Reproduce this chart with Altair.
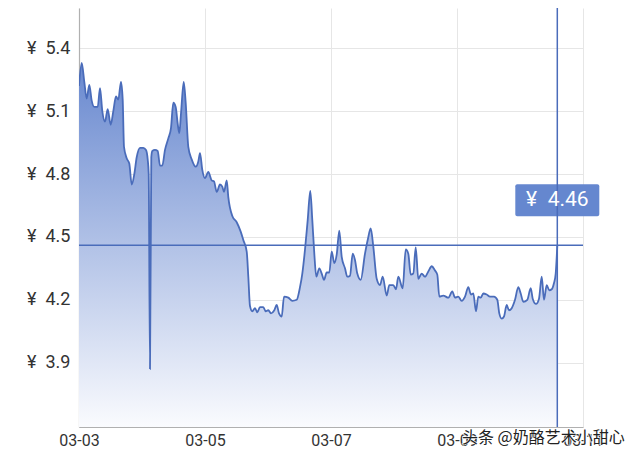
import altair as alt
import pandas as pd

# hours since 03-03 00:00 and price (CNY)
hours = [0, 1.03, 2.02, 2.93, 3.92, 4.84, 5.83, 7.12, 8.0, 8.88, 9.90, 10.93, 12.08, 13.07,
         14.10, 14.97, 16.0, 16.65, 17.14, 18.17, 19.16, 20.08, 21.07, 21.98, 23.24, 24.50,
         25.52, 26.17, 26.55, 27.05, 27.54, 27.92, 28.95, 29.98, 30.86, 31.73, 32.76, 34.02,
         35.05, 35.92, 36.84, 37.60, 38.21, 38.86, 39.89, 40.65, 41.64, 42.93, 44.46, 45.45,
         46.10, 46.97, 48.0, 49.26, 50.55, 51.43, 52.46, 53.71, 54.59, 55.24, 56.27, 56.88,
         58.40, 60.08, 61.60, 62.59, 63.89, 64.50, 65.14, 66.02, 67.05, 67.92, 68.95, 70.21,
         71.12, 72.11, 73.14, 74.40, 75.31, 76.19, 77.22, 78.10, 79.73, 81.26, 82.93, 84.19,
         85.07, 86.10, 87.12, 88.11, 88.88, 89.64, 90.40, 91.54, 92.46, 93.33, 94.36, 95.35,
         96.27, 97.26, 98.17, 99.16, 100.08, 101.33, 102.21, 103.24, 104.27, 105.14, 106.02,
         107.31, 108.95, 109.98, 111.12, 112.11, 113.41, 114.67, 115.70, 117.22, 118.21,
         119.73, 120.76, 121.64, 123.31, 124.46, 125.45, 126.36, 127.35, 128.27, 129.26,
         130.55, 131.81, 133.07, 134.36, 135.62, 136.50, 137.26, 138.78, 140.69, 142.21,
         143.24, 144.50, 145.79, 147.05, 148.30, 149.33, 150.21, 151.24, 152.11, 153.03,
         154.02, 155.31, 156.57, 158.10, 159.35, 160.11, 161.03, 161.90, 162.93, 163.81,
         164.84, 166.10, 167.35, 168.27, 169.26, 170.78, 172.08, 172.84, 174.10, 175.24,
         176.27, 177.14, 178.17, 179.16, 180.08, 180.95, 181.60, 182.21]
prices = [5.22, 5.33, 5.24, 5.16, 5.225, 5.15, 5.12, 5.12, 5.21, 5.10, 5.05, 5.11, 5.035, 5.10,
          5.17, 5.155, 5.24, 5.155, 4.93, 4.875, 4.85, 4.75, 4.80, 4.88, 4.925, 4.925,
          4.915, 4.87, 4.80, 3.87, 4.88, 4.91, 4.915, 4.91, 4.84, 4.84, 4.915, 4.97,
          5.02, 5.14, 5.12, 5.04, 4.995, 5.09, 5.24, 5.14, 4.93, 4.87, 4.835, 4.86,
          4.90, 4.82, 4.78, 4.81, 4.77, 4.765, 4.715, 4.75, 4.74, 4.715, 4.77, 4.69,
          4.60, 4.57, 4.525, 4.485, 4.43, 4.31, 4.17, 4.145, 4.16, 4.14, 4.165, 4.165,
          4.145, 4.15, 4.135, 4.15, 4.175, 4.135, 4.12, 4.215, 4.21, 4.195, 4.20, 4.26,
          4.325, 4.44, 4.58, 4.72, 4.58, 4.42, 4.31, 4.35, 4.325, 4.295, 4.33, 4.33,
          4.43, 4.375, 4.415, 4.53, 4.405, 4.35, 4.31, 4.315, 4.42, 4.39, 4.325,
          4.295, 4.42, 4.485, 4.54, 4.455, 4.30, 4.27, 4.31, 4.22, 4.27,
          4.27, 4.25, 4.31, 4.255, 4.44, 4.42, 4.32, 4.325, 4.45, 4.30,
          4.325, 4.31, 4.335, 4.36, 4.34, 4.32, 4.215, 4.22, 4.21, 4.24,
          4.21, 4.215, 4.195, 4.215, 4.26, 4.225, 4.23, 4.145, 4.215, 4.21,
          4.23, 4.225, 4.215, 4.215, 4.20, 4.135, 4.11, 4.12, 4.175, 4.15,
          4.16, 4.20, 4.26, 4.23, 4.19, 4.20, 4.255, 4.205, 4.18, 4.205,
          4.31, 4.20, 4.27, 4.245, 4.25, 4.28, 4.325, 4.46]

last_price = 4.46
last_label = "¥\u20024.46"
y_ticks = [3.9, 4.2, 4.5, 4.8, 5.1, 5.4]
y_domain = [3.593, 5.592]
x_tick_days = [3, 5, 7, 9, 11]
watermark = "头条 @奶酪艺术小甜心"

start = pd.Timestamp("2021-03-03 00:00")
df = pd.DataFrame({
    "t": [start + pd.Timedelta(hours=h) for h in hours],
    "price": prices,
})
last_df = pd.DataFrame({"t": [df["t"].iloc[-1]], "p": [last_price], "label": [last_label]})

LINE = "#4a6cba"

x_enc = alt.X(
    "t:T",
    scale=alt.Scale(domain=[alt.DateTime(year=2021, month=3, date=3),
                            alt.DateTime(year=2021, month=3, date=11)]),
    axis=alt.Axis(values=[alt.DateTime(year=2021, month=3, date=d) for d in x_tick_days],
                  format="%m-%d", title=None, labelFontSize=16, labelPadding=5,
                  labelColor="#333333", labelFont="Roboto", ticks=False,
                  labelOverlap=False, labelFlush=False),
)
y_enc = alt.Y(
    "price:Q",
    scale=alt.Scale(domain=y_domain, zero=False, nice=False),
    axis=alt.Axis(values=y_ticks, format=".1f", labelExpr="'¥\u2002' + datum.label",
                  title=None, labelFontSize=18, labelPadding=9, labelColor="#333333",
                  labelFont="Roboto", ticks=False),
)

grad = alt.Gradient(
    gradient="linear",
    stops=[alt.GradientStop(color="#6888cf", offset=0),
           alt.GradientStop(color="#fafbfe", offset=1)],
    x1=0, x2=0, y1=0, y2=1,
)

area = alt.Chart(df).mark_area(
    interpolate="monotone",
    fill=grad,
    opacity=1,
    fillOpacity=1,
    clip=True,
).encode(x=x_enc, y=y_enc, y2=alt.datum(y_domain[0]))
line = alt.Chart(df).mark_line(
    interpolate="monotone", color=LINE, strokeWidth=1.8, clip=True
).encode(x="t:T", y="price:Q")

hline = alt.Chart(last_df).mark_rule(color=LINE, strokeWidth=1.5).encode(y=alt.Y("p:Q"))
box = alt.Chart(last_df).mark_rect(
    width=84, height=32, cornerRadius=2, color="#6587cf", yOffset=-45, clip=False
).encode(x=alt.X("t:T"), y=alt.Y("p:Q"))
vline = alt.Chart(last_df).mark_rule(color=LINE, strokeWidth=1.5).encode(x=alt.X("t:T"))
box_text = alt.Chart(last_df).mark_text(
    color="white", fontSize=21, font="Roboto", yOffset=-45, clip=False
).encode(x=alt.X("t:T"), y=alt.Y("p:Q"), text="label:N")

wm_halo = alt.Chart(last_df).mark_text(
    text=watermark, align="left", baseline="middle", fontSize=16,
    font="Noto Sans CJK SC", color="white", stroke="white", strokeWidth=1.5,
    strokeOpacity=0.8, clip=False
).encode(x=alt.value(383), y=alt.value(430))
wm = alt.Chart(last_df).mark_text(
    text=watermark, align="left", baseline="middle", fontSize=16,
    font="Noto Sans CJK SC", color="#222222", clip=False
).encode(x=alt.value(383), y=alt.value(430))

chart = alt.layer(area, line, hline, box, vline, box_text, wm_halo, wm).properties(
    width=504, height=419,
    autosize=alt.AutoSizeParams(type="none"),
    padding={"left": 71, "top": 0, "right": 49, "bottom": 24},
).configure_view(stroke=None).configure_axis(
    gridColor="#e6e6e6", domainColor="#b0b0b0", domainWidth=1.2,
)

chart.save("out.html", embed_options={"renderer": "svg", "actions": False})
